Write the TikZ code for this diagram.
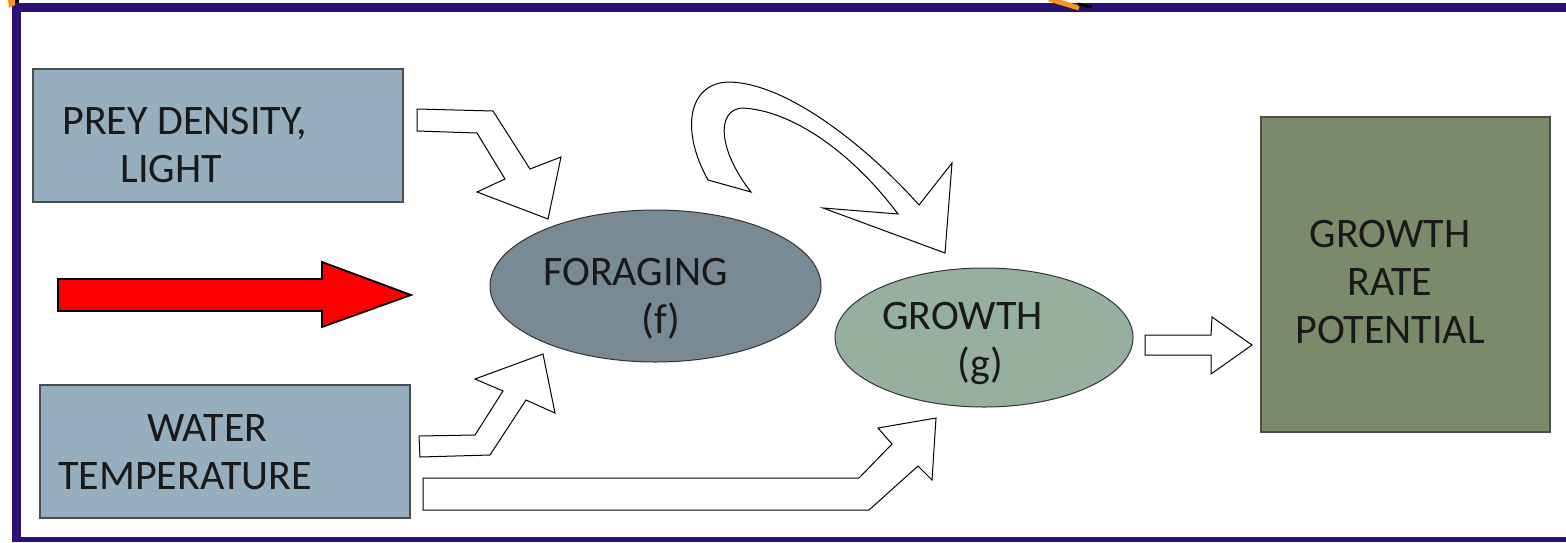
\documentclass[tikz,border=0pt]{standalone}
\usepackage{fontspec}
\setmainfont{Carlito}
\usetikzlibrary{shapes.geometric}
\definecolor{frame}{HTML}{2B1173}
\definecolor{inbox}{HTML}{97AEBF}
\definecolor{forage}{HTML}{7A8A94}
\definecolor{grow}{HTML}{97AF9F}
\definecolor{potent}{HTML}{7A8A6B}
\definecolor{orangetab}{HTML}{F7941D}

\begin{document}
\begin{tikzpicture}[x=0.5pt,y=-0.5pt,line join=miter]
	\tikzstyle{box}=[draw=black!70,line width=0.6pt,inner sep=0pt];
	\tikzstyle{oval}=[ellipse,draw=black!80,line width=0.5pt,inner sep=0pt];
	\tikzstyle{lbl}=[inner sep=0pt,text=black!90,font=\fontsize{21}{24}\selectfont];
	\tikzstyle{hollow}=[draw=black,line width=0.5pt,fill=white];
	\tikzstyle{redarr}=[draw=black,line width=0.9pt,fill=red];

	\useasboundingbox (0,0) rectangle (1566,542);
	% frame
	\fill[frame] (12,3) rectangle (1566,12);
	\fill[frame] (12,3) rectangle (21,542);
	\fill[frame] (12,537) rectangle (1566,542);
	\fill[orangetab] (8,0) -- (15,0) -- (15,5) -- (9,8) -- cycle;
	\fill[black] (15,0) rectangle (19,3);
	\draw[orangetab,line width=2.5pt] (1049,-1) -- (1079,8);
	\draw[black,line width=1.5pt] (1078,4) -- (1092,7);

	% boxes
	\node[box,fill=inbox,minimum width=185pt,minimum height=66.5pt] (prey) at (218,135.5) {};
	\node[box,fill=inbox,minimum width=185pt,minimum height=66.5pt] (water) at (225,451.5) {};
	\node[box,fill=potent,minimum width=144.5pt,minimum height=157.5pt] (potential) at (1405.5,274.5) {};
	\node[oval,fill=forage,minimum width=165.5pt,minimum height=76pt] (foraging) at (655.5,286) {};
	\node[oval,fill=grow,minimum width=149pt,minimum height=69.5pt] (growth) at (984,337.5) {};

	\node[lbl,anchor=west,align=left] (preytxt) at (62,145) {PREY DENSITY,\\\hspace{29pt}LIGHT};
	\node[lbl,anchor=west,align=left] (watertxt) at (58,452) {\hspace{44.5pt}WATER\\TEMPERATURE};
	\node[lbl,anchor=west,align=left] (foragetxt) at (543,299) {FORAGING\\\hspace{49pt}(f)};
	\node[lbl,anchor=west,align=left] (growtxt) at (882,343) {GROWTH\\\hspace{37.5pt}(g)};
	\node[lbl,align=center] (potenttxt) at (1390,282) {GROWTH\\RATE\\POTENTIAL};

	% arrows
	\draw[redarr] (58,279) -- (322,279) -- (322,262) -- (411,295) -- (322,327) -- (322,311) -- (58,311) -- cycle;
	\draw[hollow] (417,109) -- (493,111) -- (530,169) -- (561,157) -- (548,219) -- (477,192) -- (505,179) -- (477,133) -- (417,131) -- cycle;
	\draw[hollow] (419,436) -- (475,435) -- (503,391) -- (475,379) -- (543,354) -- (555,413) -- (526,400) -- (490,455) -- (420,457) -- cycle;
	\draw[hollow] (423,478) -- (859,478) -- (892,444) -- (878,428) -- (936,418) -- (932,480) -- (918,466) -- (869,510) -- (423,510) -- cycle;
	\draw[hollow] (708,180) .. controls (680,130) and (688,82) .. (730,82)
		.. controls (790,84) and (870,150) .. (919,205)
		-- (952,163) -- (945,253) -- (823,208) -- (898,214)
		.. controls (850,150) and (790,110) .. (742,108)
		.. controls (716,110) and (718,150) .. (751,192) -- cycle;
	\draw[hollow] (1145,335) -- (1211,335) -- (1212,317) -- (1252,345) -- (1211,374) -- (1211,355) -- (1145,355) -- cycle;
\end{tikzpicture}
\end{document}
